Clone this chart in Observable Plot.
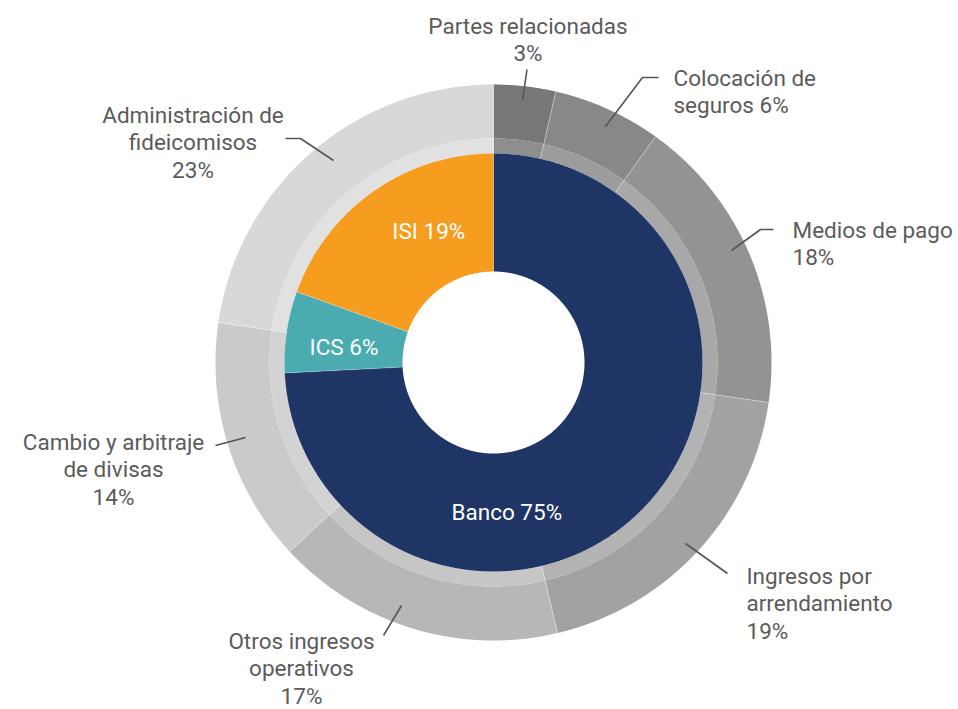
<!DOCTYPE html>
<html><head><meta charset="utf-8">
<script src="https://cdn.jsdelivr.net/npm/d3@7"></script>
<script src="https://cdn.jsdelivr.net/npm/@observablehq/plot@0.6"></script>
<style>
html,body{margin:0;padding:0;background:#fff;}
#chart svg{display:block;}
</style>
</head><body><div id="chart"></div>
<script>
// ---- Data ----
const innerCategories = ["Banco", "ICS", "ISI"];
const innerValues = [74.2, 6.3, 19.5];          // arc shares
const innerPercents = [75, 6, 19];              // printed labels
const innerColors = ["#1f3566", "#4aabb1", "#f69c1f"];

const outerCategories = ["Partes relacionadas", "Colocación de seguros", "Medios de pago",
  "Ingresos por arrendamiento", "Otros ingresos operativos", "Cambio y arbitraje de divisas",
  "Administración de fideicomisos"];
const outerValues = [3.6, 6.3, 17.4, 19.0, 16.8, 14.2, 22.7];
const outerPercents = [3, 6, 18, 19, 17, 14, 23];
const outerLabelText = ["Partes relacionadas\n{p}%", "Colocación de\nseguros {p}%", "Medios de pago\n{p}%",
  "Ingresos por\narrendamiento\n{p}%", "Otros ingresos\noperativos\n{p}%", "Cambio y arbitraje\nde divisas\n{p}%",
  "Administración de\nfideicomisos\n{p}%"];
const outerColors = ["#777777", "#888888", "#939393", "#a2a2a2", "#b8b7b8", "#cacaca", "#d9d8d7"];
const bandColors  = ["#8e8e8e", "#9c9c9c", "#a8a8a8", "#b3b3b3", "#c6c6c6", "#d3d3d3", "#e1e1e1"];

// ---- Layout ----
const W = 958, H = 709;
const cx = 493, cy = 362;
const rHole = 91, rInner = 209, rBand = 224, rOuter = 278;
const FS = 22.5, LINE = 28;
const textColor = "#5b5b5b";

// label placement: x, first baseline y, anchor, leader polyline (pixels)
const outerLabelLayout = [
  {x: 527.5, b: 33,  anchor: "middle", leader: [[526.5, 69], [522, 100]]},
  {x: 673,   b: 85,  anchor: "start",  leader: [[658, 77], [642, 77], [605, 126]]},
  {x: 792,   b: 237, anchor: "start",  leader: [[773, 229], [760, 229], [731, 250]]},
  {x: 746,   b: 583, anchor: "start",  leader: [[727, 573], [685, 543]]},
  {x: 301,   b: 648, anchor: "middle", leader: [[383, 635], [401, 605]]},
  {x: 113,   b: 449, anchor: "middle", leader: [[215, 445], [245, 437]]},
  {x: 192.5, b: 122, anchor: "middle", leader: [[285, 138], [300, 138], [333, 160]]}
];
const innerLabelLayout = [
  {x: 506.3, b: 519},
  {x: 343.5, b: 354},
  {x: 428.3, b: 238.5}
];

// ---- Geometry helpers ----
function ring(values, r0, r1, colors, name) {
  const total = d3.sum(values);
  const pts = [], seps = [];
  let acc = 0;
  values.forEach((v, i) => {
    const a0 = acc / total * 2 * Math.PI;
    acc += v;
    const a1 = acc / total * 2 * Math.PI;
    const n = Math.max(2, Math.ceil((a1 - a0) / (Math.PI / 720)));
    const key = name + i;
    for (let k = 0; k <= n; k++) {
      const a = a0 + (a1 - a0) * k / n;
      pts.push({key, fill: colors[i], x: cx + r1 * Math.sin(a), y: cy - r1 * Math.cos(a)});
    }
    for (let k = n; k >= 0; k--) {
      const a = a0 + (a1 - a0) * k / n;
      pts.push({key, fill: colors[i], x: cx + r0 * Math.sin(a), y: cy - r0 * Math.cos(a)});
    }
    seps.push({x1: cx + r0 * Math.sin(a0), y1: cy - r0 * Math.cos(a0), x2: cx + r1 * Math.sin(a0), y2: cy - r1 * Math.cos(a0)});
  });
  return {pts, seps};
}

const inner = ring(innerValues, rHole, rInner, innerColors, "in");
const band = ring(outerValues, rInner, rBand, bandColors, "band");
const outer = ring(outerValues, rBand, rOuter, outerColors, "out");

const outerLabels = outerCategories.map((c, i) => ({
  category: c,
  text: outerLabelText[i].replace("{p}", outerPercents[i]),
  x: outerLabelLayout[i].x,
  y: outerLabelLayout[i].b - 0.71 * LINE,
  anchor: outerLabelLayout[i].anchor
}));
const innerLabels = innerCategories.map((c, i) => ({
  text: `${c} ${innerPercents[i]}%`,
  x: innerLabelLayout[i].x,
  y: innerLabelLayout[i].b - 0.71 * LINE
}));
const leaders = outerLabelLayout.flatMap((l, i) => l.leader.map(([x, y]) => ({key: i, x, y})));

const textOpts = {fontSize: FS, lineHeight: LINE / FS, lineAnchor: "top", fontFamily: "Roboto, 'Liberation Sans', sans-serif", fontWeight: 400};

const chart = Plot.plot({
  width: W, height: H,
  margin: 0,
  x: {domain: [0, W], range: [0, W], axis: null},
  y: {domain: [0, H], range: [0, H], axis: null},
  color: {type: "identity"},
  style: {background: "#fff"},
  marks: [
    Plot.line(outer.pts, {x: "x", y: "y", z: "key", fill: "fill", stroke: "none"}),
    Plot.line(band.pts, {x: "x", y: "y", z: "key", fill: "fill", stroke: "none"}),
    Plot.line(inner.pts, {x: "x", y: "y", z: "key", fill: "fill", stroke: "none"}),
    Plot.link(outer.seps.concat(band.seps), {x1: "x1", y1: "y1", x2: "x2", y2: "y2", stroke: "#ffffff", strokeOpacity: 0.45, strokeWidth: 0.8}),
    Plot.link(inner.seps, {x1: "x1", y1: "y1", x2: "x2", y2: "y2", stroke: "#ffffff", strokeOpacity: 0.35, strokeWidth: 0.8}),
    Plot.line(leaders, {x: "x", y: "y", z: "key", stroke: "#555555", strokeWidth: 1.6, strokeLinecap: "butt"}),
    Plot.text(outerLabels.filter(d => d.anchor === "middle"), {x: "x", y: "y", text: "text", textAnchor: "middle", fill: textColor, ...textOpts}),
    Plot.text(outerLabels.filter(d => d.anchor === "start"), {x: "x", y: "y", text: "text", textAnchor: "start", fill: textColor, ...textOpts}),
    Plot.text(innerLabels, {x: "x", y: "y", text: "text", textAnchor: "middle", fill: "#ffffff", ...textOpts})
  ]
});
document.getElementById("chart").appendChild(chart);
</script>
</body></html>
